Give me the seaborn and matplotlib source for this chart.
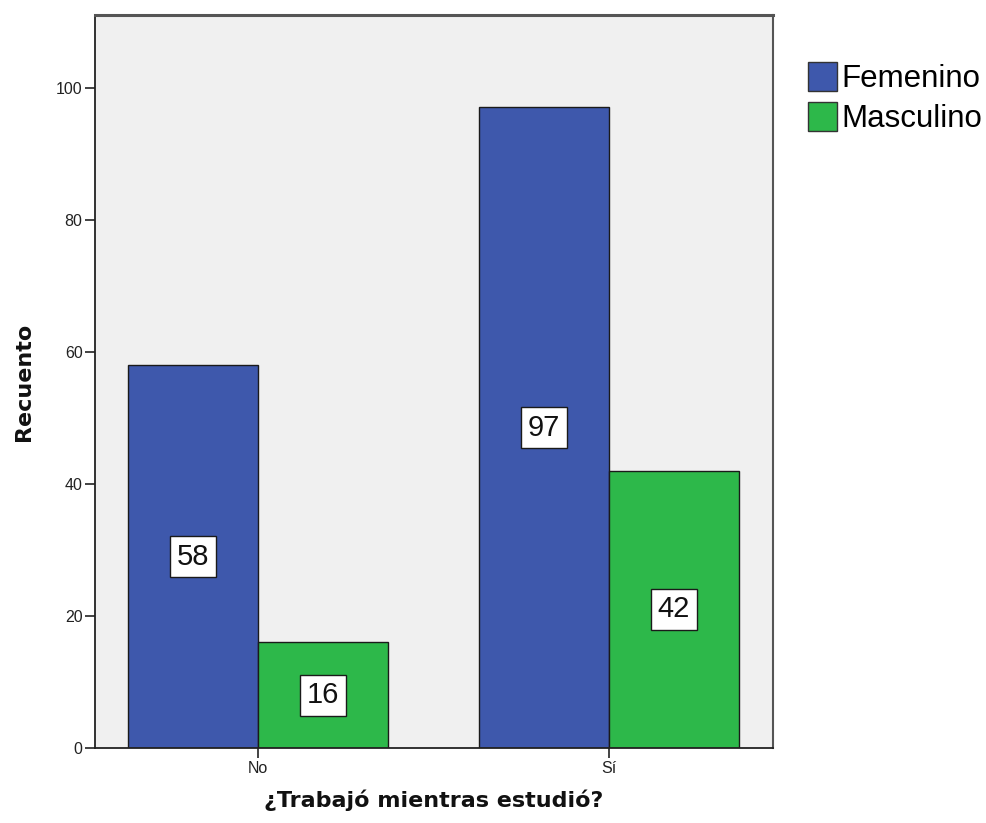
import matplotlib
matplotlib.use("Agg")
import matplotlib.pyplot as plt
from matplotlib.patches import Patch
import seaborn as sns
import pandas as pd

# Respuestas y recuentos por sexo
categorias = ["No", "Sí"]
sexos = ["Femenino", "Masculino"]
femenino = [58, 97]
masculino = [16, 42]
colores = ["#3E58AC", "#2DB84A"]

df = pd.DataFrame({
    "trabajo": categorias * 2,
    "sexo": [sexos[0]] * len(categorias) + [sexos[1]] * len(categorias),
    "recuento": femenino + masculino,
})

sns.set_style("white")
plt.rcParams["font.family"] = ["Liberation Sans", "DejaVu Sans"]

fig = plt.figure(figsize=(9.87, 8.23), dpi=100)
ax = fig.add_axes([0.0963, 0.0911, 0.6869, 0.8907])
ax.set_facecolor("#F0F0F0")

sns.barplot(data=df, x="trabajo", y="recuento", hue="sexo", order=categorias,
            hue_order=sexos, palette=colores, width=0.74, saturation=1,
            edgecolor="#1a1a1a", linewidth=1.0, legend=False, ax=ax)

for cont in ax.containers:
    ax.bar_label(cont, fmt="%d", label_type="center", fontsize=21,
                 color="#111111",
                 bbox=dict(boxstyle="square,pad=0.22", facecolor="white",
                           edgecolor="#1a1a1a", linewidth=1.0))

ax.set_ylim(0, 111)
ax.set_xlim(-0.464, 1.467)
ax.set_yticks([0, 20, 40, 60, 80, 100])
ax.tick_params(axis="both", direction="out", length=7, width=1.2,
               color="#222222", labelsize=11.5, labelcolor="#222222", pad=2,
               left=True, bottom=True)

for side in ["left", "bottom", "right", "top"]:
    ax.spines[side].set_visible(True)
    ax.spines[side].set_color("#222222")
    ax.spines[side].set_linewidth(1.3)
ax.spines["top"].set_color("#555555")
ax.spines["top"].set_linewidth(2.2)
ax.spines["right"].set_color("#555555")
ax.spines["right"].set_linewidth(1.5)

ax.set_xlabel("¿Trabajó mientras estudió?", fontsize=16, fontweight="bold",
              family=["DejaVu Sans"], labelpad=10, color="#111111")
ax.set_ylabel("Recuento", fontsize=16, fontweight="bold",
              family=["DejaVu Sans"], labelpad=16, color="#111111")

handles = [Patch(facecolor=c, edgecolor="#333333", linewidth=1.0) for c in colores]
leg = fig.legend(handles, sexos, loc="upper left", bbox_to_anchor=(0.8187, 0.925),
                 frameon=False, fontsize=22.5, handlelength=0.93, handleheight=1.05,
                 handletextpad=0.15, labelspacing=0.25, borderaxespad=0,
                 borderpad=0)
for t in leg.get_texts():
    t.set_color("#000000")

fig.savefig("out.png", dpi=100, facecolor="white")
